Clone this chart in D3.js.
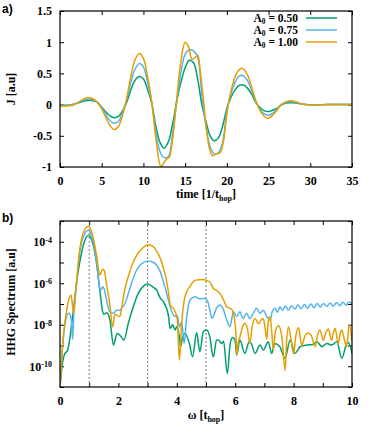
<!DOCTYPE html>
<html>
<head>
<meta charset="utf-8">
<title>Current and HHG spectrum</title>
<style>
    body { margin: 0; background: #fff; }
    svg text { font-family: "Liberation Serif", "Times New Roman", serif; font-weight: bold; }
    .panel-tag { font-family: "Liberation Sans", Arial, sans-serif; }
</style>
</head>
<body>
<svg id="chart"></svg>
<script src="https://d3js.org/d3.v7.min.js"></script>
<script>

    // ---- panel a) current J(t) ----
    const timeGrid = [0, 0.5, 1, 1.5, 2, 2.5, 3, 3.5, 4, 4.5, 5, 5.5, 6, 6.5, 7, 7.5, 8, 8.5, 9, 9.5,
        10, 10.5, 11, 11.5, 12, 12.5, 13, 13.5, 14, 14.5, 15, 15.5, 16, 16.5, 17, 17.5, 18, 18.5, 19, 19.5,
        20, 20.5, 21, 21.5, 22, 22.5, 23, 23.5, 24, 24.5, 25, 25.5, 26, 26.5, 27, 27.5, 28, 28.5, 29, 29.5,
        30, 31, 32, 33, 34, 35];
    const currA050 = [-0.01, -0.01, -0.01, 0.0, 0.02, 0.04, 0.06, 0.07, 0.06, 0.03, -0.04, -0.12, -0.18, -0.21, -0.19, -0.10, 0.04, 0.24, 0.39, 0.45,
        0.41, 0.24, 0.02, -0.35, -0.61, -0.70, -0.59, -0.31, 0.06, 0.36, 0.59, 0.71, 0.67, 0.41, 0.0, -0.27, -0.50, -0.58, -0.53, -0.34,
        -0.06, 0.12, 0.24, 0.31, 0.315, 0.26, 0.16, 0.03, -0.05, -0.10, -0.11, -0.09, -0.06, -0.01, 0.02, 0.03, 0.03, 0.02, 0.01, 0.0,
        -0.005, -0.005, 0, 0, 0, 0];
    const currA075 = [-0.015, -0.015, -0.01, 0.0, 0.025, 0.055, 0.08, 0.09, 0.075, 0.035, -0.05, -0.16, -0.26, -0.30, -0.27, -0.13, 0.08, 0.36, 0.57, 0.66,
        0.60, 0.36, 0.03, -0.45, -0.76, -0.85, -0.83, -0.45, 0.05, 0.52, 0.81, 0.88, 0.86, 0.76, 0.15, -0.35, -0.68, -0.79, -0.77, -0.60,
        -0.10, 0.18, 0.36, 0.46, 0.46, 0.38, 0.22, 0.04, -0.08, -0.15, -0.17, -0.14, -0.07, 0.0, 0.03, 0.05, 0.045, 0.03, 0.01, 0.0,
        -0.005, -0.005, 0, 0, 0, 0];
    const timeA100 = [0, 0.5, 1, 1.5, 2, 2.5, 3, 3.4, 4, 4.5, 5, 5.5, 6, 6.5, 7, 7.5, 8, 8.5, 9, 9.5,
        10, 10.5, 11, 11.5, 12.1, 12.5, 12.8, 13.1, 13.5, 14, 14.5, 15, 15.4, 15.8, 16.1, 16.5, 16.8, 17.25, 17.6, 18,
        18.3, 18.7, 19.2, 19.6, 20, 20.5, 21, 21.5, 21.9, 22.5, 23, 23.5, 24, 24.5, 24.9, 25.5, 26, 26.5, 27, 27.6,
        28, 28.5, 29, 29.5, 30, 31, 32, 33, 34, 35];
    const currA100 = [-0.025, -0.025, -0.02, -0.01, 0.02, 0.06, 0.10, 0.115, 0.09, 0.03, -0.07, -0.21, -0.34, -0.40, -0.35, -0.17, 0.11, 0.46, 0.72, 0.82,
        0.74, 0.45, 0.04, -0.55, -0.99, -0.92, -0.87, -0.84, -0.55, 0.10, 0.70, 1.0, 0.93, 0.73, 0.74, 0.79, 0.55, 0.0, -0.45, -0.75,
        -0.82, -0.79, -0.77, -0.58, -0.15, 0.22, 0.45, 0.56, 0.58, 0.47, 0.27, 0.05, -0.10, -0.19, -0.22, -0.17, -0.09, -0.005, 0.04, 0.06,
        0.055, 0.035, 0.01, 0.0, -0.01, -0.005, 0, 0, 0, 0];

    // ---- panel b) HHG spectrum, values given as log10 ----
    const omegaA050 = [0, 0.09, 0.17, 0.25, 0.32, 0.41, 0.48, 0.57, 0.68, 0.8, 0.97, 1.14, 1.26, 1.37, 1.46, 1.5, 1.6, 1.71, 1.83, 1.96,
        2.08, 2.19, 2.34, 2.51, 2.68, 2.85, 3.0, 3.2, 3.31, 3.42, 3.54, 3.71, 3.77, 3.86, 3.94, 4.0, 4.09, 4.13, 4.2, 4.28,
        4.43, 4.54, 4.68, 4.79, 4.91, 5.02, 5.13, 5.25, 5.36, 5.42, 5.54, 5.6, 5.73, 5.83, 5.91, 6.0, 6.05, 6.16, 6.33, 6.48,
        6.55, 6.68, 6.85, 6.96, 7.13, 7.25, 7.36, 7.53, 7.71, 7.88, 8.05, 8.22, 8.45, 8.65, 8.8, 8.97, 9.14, 9.3, 9.48, 9.65,
        9.82, 9.88, 10];
    const hhgA050 = [-11, -9.8, -9.38, -9.27, -8.82, -7.85, -7.05, -5.93, -4.96, -4.16, -3.7, -4.16, -5.12, -6.41, -7.37, -7.5, -7.42, -7.77, -8.98, -8.42,
        -8.55, -8.74, -7.93, -7.13, -6.49, -6.15, -6.04, -6.2, -6.33, -6.68, -6.89, -7.53, -8.18, -8.0, -8.25, -8.1, -8.6, -9.06, -8.6, -8.42,
        -8.9, -9.54, -8.37, -9.3, -8.33, -8.25, -8.58, -9.56, -8.74, -8.74, -8.9, -8.8, -10.35, -8.9, -8.62, -8.8, -9.46, -8.74, -9.38, -8.82,
        -8.9, -9.38, -8.98, -9.22, -8.82, -9.38, -8.9, -9.06, -9.62, -8.74, -9.38, -9.06, -8.98, -8.95, -8.82, -9.06, -8.9, -8.98, -8.82, -9.62,
        -8.9, -8.86, -9.38];
    const omegaA075 = [0, 0.09, 0.17, 0.29, 0.34, 0.4, 0.43, 0.48, 0.57, 0.68, 0.8, 0.97, 1.05, 1.14, 1.26, 1.37, 1.42, 1.46, 1.52, 1.58,
        1.71, 1.83, 1.94, 2.05, 2.11, 2.22, 2.34, 2.45, 2.63, 2.8, 3.03, 3.2, 3.31, 3.45, 3.54, 3.63, 3.71, 3.83, 3.94, 4.02,
        4.09, 4.17, 4.25, 4.34, 4.45, 4.62, 4.79, 4.96, 5.05, 5.13, 5.2, 5.25, 5.36, 5.48, 5.59, 5.71, 5.82, 5.94, 6.05, 6.16,
        6.27, 6.39, 6.5, 6.62, 6.73, 6.85, 6.96, 7.08, 7.13, 7.2, 7.27, 7.36, 7.45, 7.53, 7.62, 7.72, 7.82, 7.93, 8.04, 8.15,
        8.26, 8.37, 8.48, 8.59, 8.7, 8.81, 8.92, 9.03, 9.14, 9.25, 9.36, 9.47, 9.58, 9.69, 9.8, 9.9, 10];
    const hhgA075 = [-11, -9.0, -8.0, -7.45, -7.5, -8.0, -8.7, -7.3, -5.93, -4.48, -3.75, -3.44, -3.6, -4.0, -5.04, -6.3, -6.3, -6.17, -6.3, -6.73,
        -7.37, -7.45, -7.3, -7.3, -7.2, -7.0, -6.5, -6.0, -5.35, -5.05, -4.93, -5.0, -5.13, -5.5, -5.93, -6.35, -6.81, -7.37, -7.6, -7.55,
        -8.1, -7.85, -8.9, -7.61, -6.81, -6.65, -6.75, -6.73, -6.85, -7.29, -7.69, -7.6, -7.2, -7.05, -7.25, -7.77, -8.09, -7.37, -7.6, -7.37,
        -7.7, -7.45, -7.7, -7.45, -7.21, -7.45, -7.3, -7.6, -7.69, -7.8, -7.35, -7.2, -7.4, -7.13, -7.3, -7.1, -7.3, -7.08, -7.25, -7.05,
        -7.22, -7.03, -7.2, -7.0, -7.18, -6.98, -7.15, -6.97, -7.12, -6.95, -7.1, -6.93, -7.08, -6.92, -7.05, -6.9, -7.0];
    const omegaA100 = [0, 0.06, 0.14, 0.23, 0.32, 0.38, 0.43, 0.47, 0.55, 0.63, 0.74, 0.85, 0.97, 1.05, 1.14, 1.26, 1.36, 1.4, 1.46, 1.52,
        1.58, 1.71, 1.8, 1.88, 1.96, 2.05, 2.11, 2.22, 2.4, 2.5, 2.63, 2.8, 3.03, 3.2, 3.31, 3.45, 3.54, 3.63, 3.71, 3.79,
        3.88, 3.95, 4.02, 4.09, 4.15, 4.2, 4.28, 4.36, 4.45, 4.55, 4.65, 4.8, 4.91, 5.02, 5.14, 5.25, 5.37, 5.48, 5.6, 5.71,
        5.8, 5.88, 5.96, 6.02, 6.05, 6.1, 6.16, 6.25, 6.33, 6.42, 6.5, 6.58, 6.68, 6.8, 6.9, 6.96, 7.02, 7.08, 7.13, 7.19,
        7.25, 7.3, 7.38, 7.48, 7.6, 7.71, 7.76, 7.82, 7.9, 8.0, 8.08, 8.17, 8.28, 8.4, 8.5, 8.6, 8.74, 8.82, 8.9, 9.02,
        9.1, 9.19, 9.3, 9.36, 9.42, 9.53, 9.6, 9.65, 9.75, 9.82, 9.9, 10];
    const hhgA100 = [-11, -9.6, -8.2, -7.3, -6.7, -6.57, -7.1, -7.45, -6.25, -4.96, -3.84, -3.4, -3.25, -3.4, -3.84, -4.72, -5.6, -5.5, -5.32, -5.4,
        -5.93, -7.05, -8.1, -7.5, -7.55, -7.6, -7.2, -6.3, -5.4, -5.0, -4.64, -4.35, -4.15, -4.25, -4.45, -4.85, -5.25, -5.75, -6.4, -7.1,
        -7.2, -7.4, -7.8, -9.7, -8.3, -7.4, -6.65, -6.35, -6.15, -5.95, -5.85, -5.83, -5.82, -5.87, -5.95, -6.25, -6.35, -6.5, -6.8, -7.13,
        -7.2, -7.25, -7.6, -8.3, -9.45, -8.9, -8.6, -8.1, -7.93, -8.2, -8.9, -8.1, -7.7, -7.95, -7.75, -7.7, -8.1, -8.7, -7.9, -7.6,
        -8.3, -9.2, -8.3, -8.05, -8.6, -10.2, -8.8, -8.1, -8.6, -9.4, -8.5, -8.15, -9.0, -8.5, -8.4, -8.5, -9.05, -8.5, -8.25, -8.75,
        -8.4, -8.2, -8.75, -8.4, -8.17, -8.9, -8.4, -8.25, -8.8, -9.05, -8.0, -8.8];

    const harmonics = [1, 3, 5];
    const legendLabels = ["0.50", "0.75", "1.00"];
    const colors = ["#009e73", "#56b4e9", "#e69f00"];

    const svgWidth = 374, svgHeight = 436;
    const svg = d3.select("#chart")
        .attr("width", svgWidth)
        .attr("height", svgHeight);

    function zip(xs, ys) {
        return xs.map(function(x, i) { return {x: x, y: ys[i]}; });
    }

    function frame(g, x, y, w, h, xTicks, yTicks, xFmt, yFmt) {
        g.append("g")
            .attr("transform", "translate(0," + h + ")")
            .call(d3.axisBottom(x).tickValues(xTicks).tickSize(-4).tickPadding(9).tickFormat(xFmt))
            .call(s => s.select(".domain").remove());
        g.append("g")
            .call(d3.axisTop(x).tickValues(xTicks).tickSize(-4).tickFormat(""))
            .call(s => s.select(".domain").remove());
        g.append("g")
            .attr("class", "yaxis")
            .call(d3.axisLeft(y).tickValues(yTicks).tickSize(-4).tickPadding(8).tickFormat(yFmt))
            .call(s => s.select(".domain").remove());
        g.append("g")
            .attr("transform", "translate(" + w + ",0)")
            .call(d3.axisRight(y).tickValues(yTicks).tickSize(-4).tickFormat(""))
            .call(s => s.select(".domain").remove());
        g.selectAll(".tick text").attr("font-size", 12).attr("fill", "#000");
        g.selectAll(".tick line").attr("stroke", "#000");
    }

    // ---------- panel a ----------
    function drawCurrent() {
        const margin = {top: 11, left: 60};
        const width = 292, height = 156;
        const g = svg.append("g").attr("transform", "translate(" + margin.left + "," + margin.top + ")");

        const x = d3.scaleLinear().domain([0, 35]).range([0, width]);
        const y = d3.scaleLinear().domain([-1, 1.5]).range([height, 0]);

        frame(g, x, y, width, height, d3.range(0, 36, 5), [-1, -0.5, 0, 0.5, 1, 1.5],
            d => String(d), d => String(d));

        g.append("clipPath").attr("id", "clipA")
            .append("rect").attr("width", width).attr("height", height);

        const line = d3.line()
            .x(d => x(d.x))
            .y(d => y(d.y))
            .curve(d3.curveCatmullRom.alpha(0.5));

        const series = [zip(timeGrid, currA050), zip(timeGrid, currA075), zip(timeA100, currA100)];
        series.forEach(function(s, i) {
            g.append("path")
                .datum(s)
                .attr("clip-path", "url(#clipA)")
                .attr("fill", "none")
                .attr("stroke", colors[i])
                .attr("stroke-width", 1.5)
                .attr("stroke-linejoin", "round")
                .attr("d", line);
        });

        g.append("rect")
            .attr("width", width).attr("height", height)
            .attr("fill", "none").attr("stroke", "#000").attr("stroke-width", 1.2);

        // legend
        legendLabels.forEach(function(lab, i) {
            const by = 10.5 + 12 * i;
            const t = g.append("text")
                .attr("x", 238).attr("y", by)
                .attr("text-anchor", "end")
                .attr("font-size", 11.5);
            t.append("tspan").text("A");
            t.append("tspan").attr("font-size", 7.5).attr("dy", 2.5).text("0");
            t.append("tspan").attr("dy", -2.5).text(" = " + lab);
            g.append("line")
                .attr("x1", 246).attr("x2", 277)
                .attr("y1", by - 3.5).attr("y2", by - 3.5)
                .attr("stroke", colors[i]).attr("stroke-width", 1.5);
        });

        const xt = svg.append("text")
            .attr("x", 206).attr("y", 198)
            .attr("text-anchor", "middle")
            .attr("font-size", 12);
        xt.append("tspan").text("time [1/t");
        xt.append("tspan").attr("font-size", 8).attr("dy", 3).text("hop");
        xt.append("tspan").attr("dy", -3).text("]");

        svg.append("text")
            .attr("transform", "translate(15,89) rotate(-90)")
            .attr("text-anchor", "middle")
            .attr("font-size", 12)
            .text("J [a.u]");

        svg.append("text")
            .attr("class", "panel-tag")
            .attr("x", 2).attr("y", 13)
            .attr("font-size", 12)
            .text("a)");
    }

    // ---------- panel b ----------
    function drawSpectrum() {
        const margin = {top: 221, left: 60};
        const width = 292, height = 166;
        const g = svg.append("g").attr("transform", "translate(" + margin.left + "," + margin.top + ")");

        const x = d3.scaleLinear().domain([0, 10]).range([0, width]);
        const y = d3.scaleLog().domain([1e-11, 1e-3]).range([height, 0]);

        const yTicks = d3.range(-11, -2).map(e => Math.pow(10, e));
        frame(g, x, y, width, height, d3.range(0, 11, 1), yTicks,
            d => (d % 2 === 0 ? String(d) : ""), () => "");

        // log labels 10^n every second decade
        g.select(".yaxis").selectAll(".tick text").each(function(d) {
            const e = Math.round(Math.log10(d));
            const t = d3.select(this);
            if (e % 2 !== 0) return;
            t.append("tspan").text("10");
            t.append("tspan").attr("font-size", 8).attr("dy", "-0.45em").text(String(e));
        });

        g.selectAll(".harm")
            .data(harmonics)
            .enter().append("line")
            .attr("x1", d => x(d)).attr("x2", d => x(d))
            .attr("y1", 0).attr("y2", height)
            .attr("stroke", "#777")
            .attr("stroke-width", 1)
            .attr("stroke-dasharray", "2,2");

        g.append("clipPath").attr("id", "clipB")
            .append("rect").attr("width", width).attr("height", height);

        const line = d3.line()
            .x(d => x(d.x))
            .y(d => y(Math.pow(10, d.y)))
            .curve(d3.curveMonotoneX);

        const series = [zip(omegaA050, hhgA050), zip(omegaA075, hhgA075), zip(omegaA100, hhgA100)];
        series.forEach(function(s, i) {
            g.append("path")
                .datum(s)
                .attr("clip-path", "url(#clipB)")
                .attr("fill", "none")
                .attr("stroke", colors[i])
                .attr("stroke-width", 1.5)
                .attr("stroke-linejoin", "round")
                .attr("d", line);
        });

        g.append("rect")
            .attr("width", width).attr("height", height)
            .attr("fill", "none").attr("stroke", "#000").attr("stroke-width", 1.2);

        const xt = svg.append("text")
            .attr("x", 206).attr("y", 419)
            .attr("text-anchor", "middle")
            .attr("font-size", 12);
        xt.append("tspan").text("\u03c9 [t");
        xt.append("tspan").attr("font-size", 8).attr("dy", 3).text("hop");
        xt.append("tspan").attr("dy", -3).text("]");

        svg.append("text")
            .attr("transform", "translate(15,302) rotate(-90)")
            .attr("text-anchor", "middle")
            .attr("font-size", 12)
            .text("HHG Spectrum [a.u]");

        svg.append("text")
            .attr("class", "panel-tag")
            .attr("x", 2).attr("y", 222)
            .attr("font-size", 12)
            .text("b)");
    }

    drawCurrent();
    drawSpectrum();

</script>
</body>
</html>
